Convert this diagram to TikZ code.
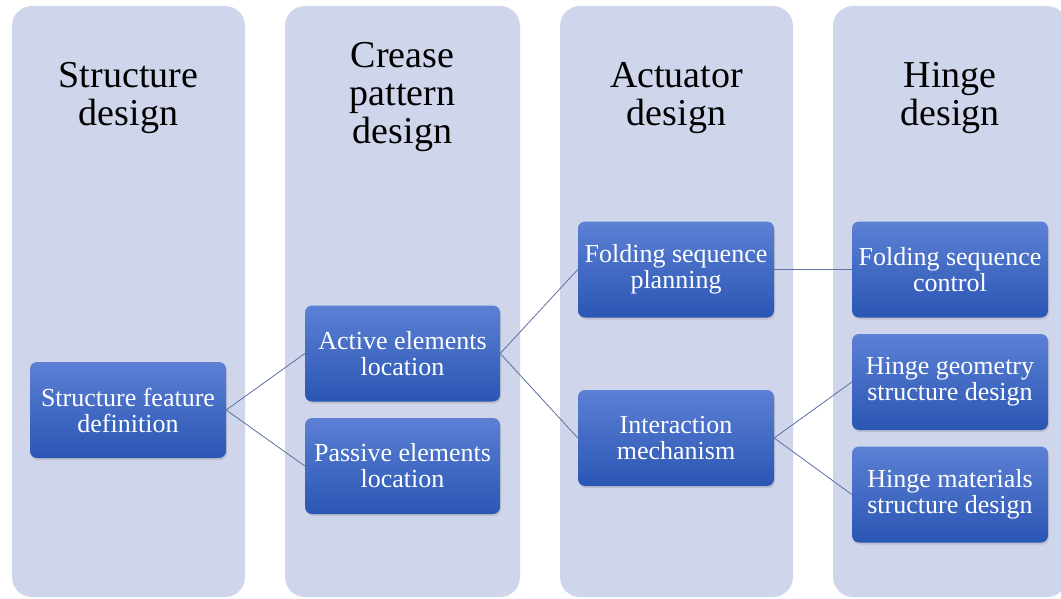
\documentclass[tikz,border=0pt]{standalone}
\usepackage{fontspec}
\setmainfont{Liberation Serif}
\usepackage{xcolor}
\usetikzlibrary{positioning, shadows, calc}

\definecolor{colfill}{RGB}{207,213,234}
\definecolor{blktop}{RGB}{92,128,212}
\definecolor{blkmid}{RGB}{62,104,196}
\definecolor{blkbot}{RGB}{42,86,180}
\definecolor{lnkcol}{RGB}{92,112,162}

\begin{document}
\begin{tikzpicture}[
  x=1pt, y=-1pt,
  col/.style={fill=colfill, draw=none, rounded corners=20pt},
  hdr/.style={align=center, font=\fontsize{38}{38}\selectfont, inner sep=0pt},
  blk/.style={rounded corners=7pt, minimum width=196pt, minimum height=96pt, align=center,
    text=white, font=\fontsize{26}{26}\selectfont, top color=blktop, middle color=blkmid,
    bottom color=blkbot, draw=none, inner sep=2pt,
    drop shadow={opacity=0.25, shadow xshift=1pt, shadow yshift=-2pt}},
  lnk/.style={draw=lnkcol, line width=0.8pt},
]
\useasboundingbox (0,0) rectangle (1061,599);
\fill[white] (0,0) rectangle (1061,599);
% Columns
\fill[col] (12,6) rectangle (245,597);
\fill[col] (285,6) rectangle (520,597);
\fill[col] (560,6) rectangle (793,597);
\fill[col] (833,6) rectangle (1067,597);
% Headers
\node[hdr] (h1) at (128.5,98) {Structure\\design};
\node[hdr] (h2) at (402.5,97) {Crease\\pattern\\design};
\node[hdr] (h3) at (676.5,98) {Actuator\\design};
\node[hdr] (h4) at (950,98) {Hinge\\design};
% Stage 1
\node[blk] (sfd) at (128,410) {Structure feature\\definition};
% Stage 2
\node[blk, minimum width=195pt] (ael) at (402.5,353.5) {Active elements\\location};
\node[blk, minimum width=195pt] (pel) at (402.5,466) {Passive elements\\location};
% Stage 3
\node[blk] (fsp) at (676,269.5) {Folding sequence\\planning};
\node[blk] (im) at (676,438) {Interaction\\mechanism};
% Stage 4
\node[blk] (fsc) at (950,269.5) {Folding sequence\\control};
\node[blk] (hgs) at (950,382) {Hinge geometry\\structure design};
\node[blk] (hms) at (950,494.5) {Hinge materials\\structure design};
% Links
\draw[lnk] (sfd.east) -- (ael.west);
\draw[lnk] (sfd.east) -- (pel.west);
\draw[lnk] (ael.east) -- (fsp.west);
\draw[lnk] (ael.east) -- (im.west);
\draw[lnk] (fsp.east) -- (fsc.west);
\draw[lnk] (im.east) -- (hgs.west);
\draw[lnk] (im.east) -- (hms.west);
\end{tikzpicture}
\end{document}
